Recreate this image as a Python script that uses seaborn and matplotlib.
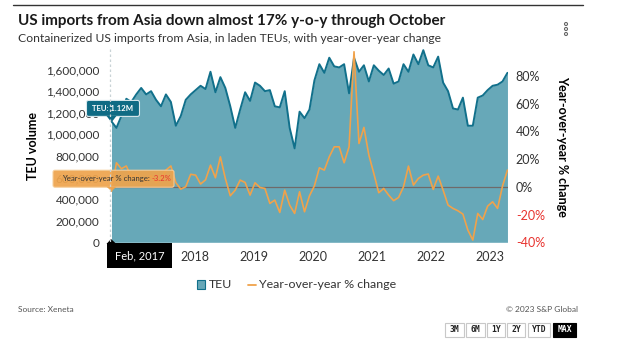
import numpy as np
import pandas as pd
import matplotlib
matplotlib.use("Agg")
import matplotlib.pyplot as plt
import seaborn as sns
from matplotlib.patches import FancyBboxPatch, Polygon, Rectangle, Circle
from matplotlib.lines import Line2D
from matplotlib.ticker import FixedLocator, FuncFormatter

# ---- data: monthly laden TEUs from Asia, Feb 2017 - Oct 2023 ----
months = pd.date_range("2017-02-01", "2023-10-01", freq="MS")
teu_millions = [
    1.12, 1.06, 1.17, 1.33, 1.30, 1.37, 1.43, 1.37, 1.40, 1.32, 1.26, 1.37,
    1.30, 1.08, 1.17, 1.32, 1.37, 1.41, 1.45, 1.42, 1.58, 1.39, 1.53, 1.43,
    1.26, 1.06, 1.23, 1.39, 1.31, 1.48, 1.45, 1.40, 1.41, 1.26, 1.25, 1.40,
    1.06, 0.87, 1.21, 1.15, 1.23, 1.50, 1.65, 1.57, 1.71, 1.63, 1.62, 1.65,
    1.38, 1.71, 1.58, 1.64, 1.49, 1.64, 1.59, 1.55, 1.61, 1.47, 1.49, 1.65,
    1.58, 1.74, 1.65, 1.78, 1.64, 1.62, 1.72, 1.48, 1.40, 1.24, 1.23, 1.34,
    1.08, 1.08, 1.34, 1.36, 1.41, 1.45, 1.46, 1.49, 1.57,
]
yoy_pct = [
    -3.2, 17.3, 13.0, 15.0, 7.0, 9.0, 5.0, 4.0, 8.0, 3.0, 6.0, 12.0,
    15.0, 3.0, -1.7, 0.0, 9.0, 8.4, 2.0, 5.0, 15.6, 6.5, 21.6, 6.0,
    -6.5, -2.4, 4.8, 3.1, -6.0, 2.9, -0.5, -1.2, -12.0, -9.6, -18.5, -2.4,
    -13.2, -19.2, -3.6, -18.0, -6.5, 0.7, 13.7, 12.0, 21.6, 28.8, 28.8, 17.3,
    28.8, 97.3, 31.2, 42.8, 22.8, 9.6, -4.3, -1.2, -6.0, -10.0, -7.7, 0.0,
    14.9, 1.2, 6.0, 8.4, 9.2, -1.9, 7.7, -2.4, -13.2, -15.6, -17.3, -19.7,
    -31.2, -38.4, -19.2, -23.6, -13.9, -10.8, -15.6, 0.5, 12.0,
]
year_labels = ["2018", "2019", "2020", "2021", "2022", "2023"]
year_label_pos = [16.9, 28.7, 40.6, 52.6, 64.5, 76.4]   # in month steps from Feb 2017
teu_ticks = [0, 200000, 400000, 600000, 800000, 1000000, 1200000, 1400000, 1600000]
yoy_ticks = [-40, -20, 0, 20, 40, 60, 80]
range_buttons = ["3M", "6M", "1Y", "2Y", "YTD", "MAX"]

df = pd.DataFrame({
    "step": np.arange(len(months)),
    "month": months,
    "TEU": np.array(teu_millions) * 1e6,
    "YoY": yoy_pct,
})

# ---- style ----
sns.set_theme(style="white")
plt.rcParams["font.family"] = ["Lato", "DejaVu Sans"]
TXT = "#333333"
FILL = "#67a8b8"
EDGE = "#11708b"
ORANGE = "#f0a24b"
RED = "#e8332f"

W, H = 624, 348
fig = plt.figure(figsize=(W / 100, H / 100), dpi=100)
fig.patch.set_facecolor("white")


def fpos(x, y):
    return x / W, 1 - y / H


left, right, top, bottom = 110, 508.2, 48, 242.3
ax = fig.add_axes([left / W, 1 - bottom / H, (right - left) / W, (bottom - top) / H])
ax2 = ax.twinx()

# TEU area
ax.fill_between(df["step"], df["TEU"], 0, color=FILL, lw=0, zorder=1)
sns.lineplot(data=df, x="step", y="TEU", ax=ax, color=EDGE, lw=1.4, zorder=2)
ax.set_ylim(0, 1.8e6)
ax.set_xlim(-0.3, 80.15)

# YoY line
ax2.axhline(0, color="#6f6a6a", lw=0.9, zorder=1)
sns.lineplot(data=df, x="step", y="YoY", ax=ax2, color=ORANGE, lw=1.2, zorder=3)
ax2.set_ylim(-40, 100)

for a in (ax, ax2):
    for s in a.spines.values():
        s.set_visible(False)
    a.set_xlabel("")
    a.set_ylabel("")
    a.grid(False)

ax.yaxis.set_major_locator(FixedLocator(teu_ticks))
ax.yaxis.set_major_formatter(FuncFormatter(lambda v, p: f"{int(v):,}"))
ax.tick_params(axis="y", length=0, pad=7.5, labelsize=8.5, labelcolor=TXT)
ax.xaxis.set_major_locator(FixedLocator(year_label_pos))
ax.set_xticklabels(year_labels)
ax.tick_params(axis="x", length=0, pad=6.5, labelsize=9, labelcolor=TXT)

ax2.yaxis.set_major_locator(FixedLocator(yoy_ticks))
ax2.set_yticklabels([f"{t}%" for t in yoy_ticks])
ax2.tick_params(axis="y", length=0, pad=5.5, labelsize=9, labelcolor=TXT)
for lbl, t in zip(ax2.get_yticklabels(), yoy_ticks):
    if t < 0:
        lbl.set_color(RED)

# axis titles
fig.text(*fpos(33, 146), "TEU volume", rotation=90, ha="center", va="center",
         fontsize=9, fontweight="bold", color="black")
fig.text(*fpos(562, 146), "Year-over-year % change", rotation=-90, ha="center",
         va="center", fontsize=9, fontweight="bold", color="black")

# header
fig.add_artist(Line2D([13 / W, 583 / W], [1 - 5 / H, 1 - 5 / H], color="#333333", lw=1))
fig.text(*fpos(18, 21), "US imports from Asia down almost 17% y-o-y through October",
         ha="left", va="center", fontsize=11, fontweight="bold", color="#1a1a1a")
fig.text(*fpos(18, 38), "Containerized US imports from Asia, in laden TEUs, with year-over-year change",
         ha="left", va="center", fontsize=8.75, color=TXT)

# overlay in pixel coordinates for tooltips, legend, footer
ov = fig.add_axes([0, 0, 1, 1], zorder=10)
ov.set_xlim(0, W)
ov.set_ylim(H, 0)
ov.axis("off")
ov.patch.set_alpha(0)

# kebab menu
for cy in (24, 29, 34):
    ov.add_patch(Circle((566, cy), 1.5, fill=False, ec="#666666", lw=0.8))

fig.canvas.draw()


def to_px(a, x, y):
    dx, dy = a.transData.transform((x, y))
    return dx, H - dy


hx, hy = to_px(ax, df["step"][0], df["TEU"][0])
ox, oy = to_px(ax2, df["step"][0], df["YoY"][0])

# crosshair
ov.plot([hx - 1, hx - 1], [top + 1, bottom], color="#c9d3d6", lw=0.9, ls=(0, (2, 2)))

# TEU tooltip
bx0, bx1, by0, by1 = hx - 25, hx + 28, hy - 21, hy - 5
ov.add_patch(FancyBboxPatch((bx0, by0), bx1 - bx0, by1 - by0,
                            boxstyle="round,pad=0,rounding_size=2",
                            fc="#0f6b84", ec="#d9e8ec", lw=0.8))
ov.add_patch(Polygon([[hx - 5, by1 - 0.5], [hx + 5, by1 - 0.5], [hx, hy + 1]],
                     closed=True, fc="#0f6b84", ec="none"))
ov.text((bx0 + bx1) / 2, (by0 + by1) / 2, "TEU: 1.12M", color="white",
        fontsize=5.6, fontweight="bold", ha="center", va="center")

# YoY tooltip
cx0, cx1, cy0, cy1 = 53, 174, oy - 21, oy - 4
ov.add_patch(FancyBboxPatch((cx0, cy0), cx1 - cx0, cy1 - cy0,
                            boxstyle="round,pad=0,rounding_size=2",
                            fc="#eea44d", ec="#f6cf9c", lw=0.8, alpha=0.93))
ov.add_patch(Polygon([[ox - 5, cy1 - 0.5], [ox + 5, cy1 - 0.5], [ox, oy]],
                     closed=True, fc="#eea44d", ec="none", alpha=0.93))
t1 = ov.text(62, (cy0 + cy1) / 2, "Year-over-year % change: ", color=TXT,
             fontsize=5.6, ha="left", va="center")
fig.canvas.draw()
bb = t1.get_window_extent()
ov.text(bb.x1, (cy0 + cy1) / 2, f"{yoy_pct[0]}%", color=RED, fontsize=5.6,
        ha="left", va="center")

# date label
ov.add_patch(Rectangle((107, 243), 65, 25, fc="black", ec="none"))
ov.add_patch(Polygon([[hx - 5, 244], [hx + 5, 244], [hx - 0.5, 239]], closed=True,
                     fc="black", ec="none"))
ov.text(139.5, 256, "Feb, 2017", color="white", fontsize=8, ha="center", va="center")

# legend
ov.add_patch(Rectangle((197, 280), 8, 9, fc=FILL, ec=EDGE, lw=0.8))
ov.text(209, 285, "TEU", color=TXT, fontsize=8.9, ha="left", va="center")
ov.plot([248, 256], [285, 285], color=ORANGE, lw=1.3)
ov.text(259, 285, "Year-over-year % change", color=TXT, fontsize=8.9, ha="left", va="center")

# footer
ov.text(18, 310, "Source: Xeneta", color="#555555", fontsize=6, ha="left", va="center")
ov.text(578, 310, "\u00a9 2023 S&P Global", color="#555555", fontsize=6, ha="right", va="center")
bx = [445, 466, 487, 507, 528, 553]
bw = [19, 19, 18, 18, 22, 23]
for label, x0, w in zip(range_buttons, bx, bw):
    dark = label == "MAX"
    ov.add_patch(Rectangle((x0, 322.5), w, 14, fc="black" if dark else "white",
                           ec="black" if dark else "#c8c8c8", lw=0.8))
    ov.text(x0 + w / 2, 329.5, label, color="white" if dark else "#222222",
            fontsize=5.8, fontweight="bold", ha="center", va="center",
            family=["DejaVu Sans Mono", "DejaVu Sans"])

fig.savefig("out.png", dpi=100, facecolor="white")
